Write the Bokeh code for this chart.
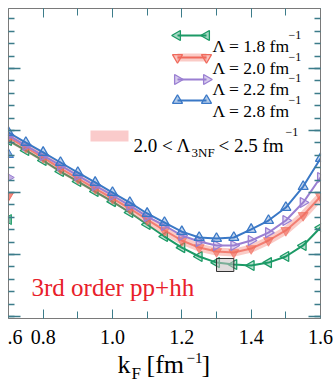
from bokeh.plotting import figure
from bokeh.models import (Range1d, LinearAxis, Label, FixedTicker, CustomLabelingPolicy,
                          BoxAnnotation)
from bokeh.embed import file_html
from bokeh.resources import INLINE

# ---------------- data ----------------
kf = [0.70, 0.75, 0.80, 0.85, 0.90, 0.95, 1.00, 1.05, 1.10, 1.15,
      1.20, 1.25, 1.30, 1.35, 1.40, 1.45, 1.50, 1.55, 1.60]
e_lam18 = [-5.81, -6.61, -7.42, -8.31, -9.11, -9.92, -10.73, -11.61, -12.58, -13.55,
           -14.44, -15.16, -15.65, -15.81, -15.89, -15.65, -15.16, -14.27, -12.82]
e_lam20 = [-5.56, -6.37, -7.18, -8.06, -8.87, -9.68, -10.48, -11.29, -12.18, -13.06,
           -13.87, -14.44, -14.76, -14.84, -14.52, -13.87, -13.06, -11.85, -10.32]
e_lam22 = [-5.40, -6.21, -7.02, -7.82, -8.63, -9.44, -10.24, -11.05, -11.94, -12.66,
           -13.47, -13.95, -14.27, -14.27, -13.87, -13.23, -12.26, -10.81, -8.79]
e_lam28 = [-5.16, -5.97, -6.77, -7.58, -8.39, -9.19, -10.00, -10.81, -11.69, -12.42,
           -13.15, -13.63, -13.71, -13.63, -12.98, -12.26, -11.21, -9.52, -7.26]
# clipped end points of the neighbouring panel visible on the left edge
prev_kf = [0.70, 0.70, 0.70, 0.70]
prev_e = [-12.18, -10.24, -8.79, -6.94]
# empirical saturation box
sat_kf = [1.30, 1.35]
sat_e = [-16.37, -15.32]

x_ticks = [0.8, 1.0, 1.2, 1.4, 1.6]
x_tick_labels = ["0.8", "1.0", "1.2", "1.4", "1.6"]
x_minor = [0.7, 0.8, 0.9, 1.0, 1.1, 1.2, 1.3, 1.4, 1.5, 1.6]
y_ticks = [0, -5, -10, -15, -20]
y_minor = list(range(4, -21, -1))

series_labels = ["Λ = 1.8 fm", "Λ = 2.0 fm", "Λ = 2.2 fm", "Λ = 2.8 fm"]

# ---------------- layout (page pixels) ----------------
X0, X1 = 0.70, 1.60
Y0, Y1 = -20.16, 4.84
BL, BT, BR, BB = 8, 8, 320, 318   # plot box on the page
PAGE_W, PAGE_H = 333, 382
SX = (X1 - X0) / (BR - BL)
SY = (Y1 - Y0) / (BB - BT)


def dx(px):
    return X0 + (px - BL) * SX


def dy(py):
    return Y1 - (py - BT) * SY


GREEN = "#1c9a66"
RED = "#f06a5c"
PURPLE = "#9a7fd2"
BLUE = "#3a78c6"
TICK = "#3c7c8a"
AXIS = "#7a7a7a"
SERIF = "Liberation Serif"

p = figure(width=PAGE_W, height=PAGE_H, output_backend="svg", toolbar_location=None,
           title=None, x_range=Range1d(dx(0), dx(PAGE_W)),
           y_range=Range1d(dy(PAGE_H), dy(0)),
           min_border_left=0, min_border_top=0, min_border_right=0, min_border_bottom=0)
p.grid.visible = False
p.outline_line_color = None
p.background_fill_color = "white"
p.border_fill_color = "white"

no_labels = CustomLabelingPolicy(code="return []")

bx = p.xaxis[0]
top = LinearAxis()
p.add_layout(top, "above")
bx.fixed_location = Y0
top.fixed_location = Y1
for ax in [bx, top]:
    ax.bounds = (X0, X1)
    ax.ticker = FixedTicker(ticks=x_ticks, minor_ticks=x_minor)
    ax.major_tick_in = 9
    ax.minor_tick_in = 7

ly = p.yaxis[0]
right = LinearAxis()
p.add_layout(right, "right")
ly.fixed_location = X0
right.fixed_location = X1
for ax in [ly, right]:
    ax.bounds = (Y0, Y1)
    ax.ticker = FixedTicker(ticks=y_ticks, minor_ticks=y_minor)
    ax.major_tick_in = 12
    ax.minor_tick_in = 6
    ax.major_tick_line_width = 1.5
    ax.minor_tick_line_width = 1.5

for ax in [bx, top, ly, right]:
    ax.major_label_policy = no_labels
    ax.major_label_text_font_size = "0px"
    ax.major_label_standoff = 0
    ax.major_tick_out = 0
    ax.minor_tick_out = 0
    ax.major_tick_line_color = TICK
    ax.minor_tick_line_color = TICK
    ax.axis_line_color = AXIS

# ---------------- curves ----------------
p.scatter(prev_kf[0:1], prev_e[0:1], marker="triangle", angle=1.5708, size=10,
          line_color=GREEN, fill_color=GREEN, fill_alpha=0.6)
p.scatter(prev_kf[1:2], prev_e[1:2], marker="inverted_triangle", size=10,
          line_color=RED, fill_color=RED, fill_alpha=0.8)
p.scatter(prev_kf[2:3], prev_e[2:3], marker="triangle", angle=-1.5708, size=10,
          line_color=PURPLE, fill_color=PURPLE, fill_alpha=0.6)
p.scatter(prev_kf[3:4], prev_e[3:4], marker="triangle", size=10,
          line_color=BLUE, fill_color=BLUE, fill_alpha=0.6)

p.line(kf, e_lam18, line_color=GREEN, line_width=2)
p.scatter(kf, e_lam18, marker="triangle", angle=1.5708, size=10,
          line_color=GREEN, fill_color=GREEN, fill_alpha=0.3, line_width=1.3)
p.line(kf, e_lam20, line_color=RED, line_width=8, line_alpha=0.35)
p.line(kf, e_lam20, line_color=RED, line_width=2, line_alpha=0.8)
p.scatter(kf, e_lam20, marker="inverted_triangle", size=10,
          line_color=RED, fill_color=RED, fill_alpha=0.6, line_alpha=0.6)
p.line(kf, e_lam22, line_color=PURPLE, line_width=2)
p.scatter(kf, e_lam22, marker="triangle", angle=-1.5708, size=10,
          line_color=PURPLE, fill_color=PURPLE, fill_alpha=0.3, line_width=1.3)
p.line(kf, e_lam28, line_color=BLUE, line_width=2)
p.scatter(kf, e_lam28, marker="triangle", size=10,
          line_color=BLUE, fill_color=BLUE, fill_alpha=0.3, line_width=1.3)

p.quad(left=[sat_kf[0]], right=[sat_kf[1]], bottom=[sat_e[0]], top=[sat_e[1]],
       fill_color="#c9c0bf", fill_alpha=0.55, line_color="#333333", line_width=1)

# white masks outside the plot box (markers are clipped at the box edges)
p.add_layout(BoxAnnotation(right=dx(BL - 0.6), fill_color="white", fill_alpha=1.0,
                           line_color=None))
p.add_layout(BoxAnnotation(left=dx(BR + 0.6), fill_color="white", fill_alpha=1.0,
                           line_color=None))

# ---------------- legend ----------------
leg = [(GREEN, "triangle", 1.5708, 35, 45),
       (RED, "inverted_triangle", 0.0, 57, 67),
       (PURPLE, "triangle", -1.5708, 79, 88),
       (BLUE, "triangle", 0.0, 100, 110)]
for (col, mk, ang, lyp, base), txt in zip(leg, series_labels):
    xs = [dx(177), dx(206)]
    ys = [dy(lyp), dy(lyp)]
    if col == RED:
        p.line(xs, ys, line_color=RED, line_width=8, line_alpha=0.35)
    p.line(xs, ys, line_color=col, line_width=2)
    p.scatter(xs, ys, marker=mk, angle=ang, size=10, line_color=col,
              fill_color=col, fill_alpha=0.4, line_width=1.3)
    p.add_layout(Label(x=dx(212), y=dy(base), text=txt, text_font=SERIF,
                       text_font_size="17.5px", text_color="black",
                       text_baseline="alphabetic"))
    p.add_layout(Label(x=dx(288), y=dy(base - 11), text="\u22121", text_font=SERIF,
                       text_font_size="12px", text_color="black",
                       text_baseline="alphabetic"))

p.quad(left=[dx(90)], right=[dx(128)], bottom=[dy(141)], top=[dy(130)],
       fill_color="#f5a0a0", fill_alpha=0.55, line_color=None)
for txt, px, py, fs in [("2.0 < Λ", 133, 145, "19px"), ("3NF", 191, 152, "13px"),
                        ("< 2.5 fm", 218, 145, "19px"), ("\u22121", 285, 131, "12px")]:
    p.add_layout(Label(x=dx(px), y=dy(py), text=txt, text_font=SERIF,
                       text_font_size=fs, text_color="black", text_baseline="alphabetic"))

p.add_layout(Label(x=dx(31), y=dy(287), text="3rd order pp+hh", text_font=SERIF,
                   text_font_size="25px", text_color="#e8202a", text_baseline="alphabetic"))

# ---------------- tick labels and axis title ----------------
for tv, tl in zip(x_ticks, x_tick_labels):
    p.add_layout(Label(x=tv, y=dy(336), text=tl, text_font=SERIF, text_font_size="20px",
                       text_color="black", text_align="center", text_baseline="alphabetic"))
# clipped tick label of the neighbouring panel
p.add_layout(Label(x=dx(7), y=dy(336), text=".6", text_font=SERIF, text_font_size="20px",
                   text_color="black", text_baseline="alphabetic"))

for txt, px, py, fs in [("k", 117, 364, "26px"), ("F", 131, 373, "17px"),
                        ("[fm", 146, 364, "26px"), ("\u22121", 186, 357, "15px"),
                        ("]", 201, 364, "26px")]:
    p.add_layout(Label(x=dx(px), y=dy(py), text=txt, text_font=SERIF, text_font_size=fs,
                       text_color="black", text_baseline="alphabetic"))

open("out.html", "w").write(file_html(p, INLINE))
